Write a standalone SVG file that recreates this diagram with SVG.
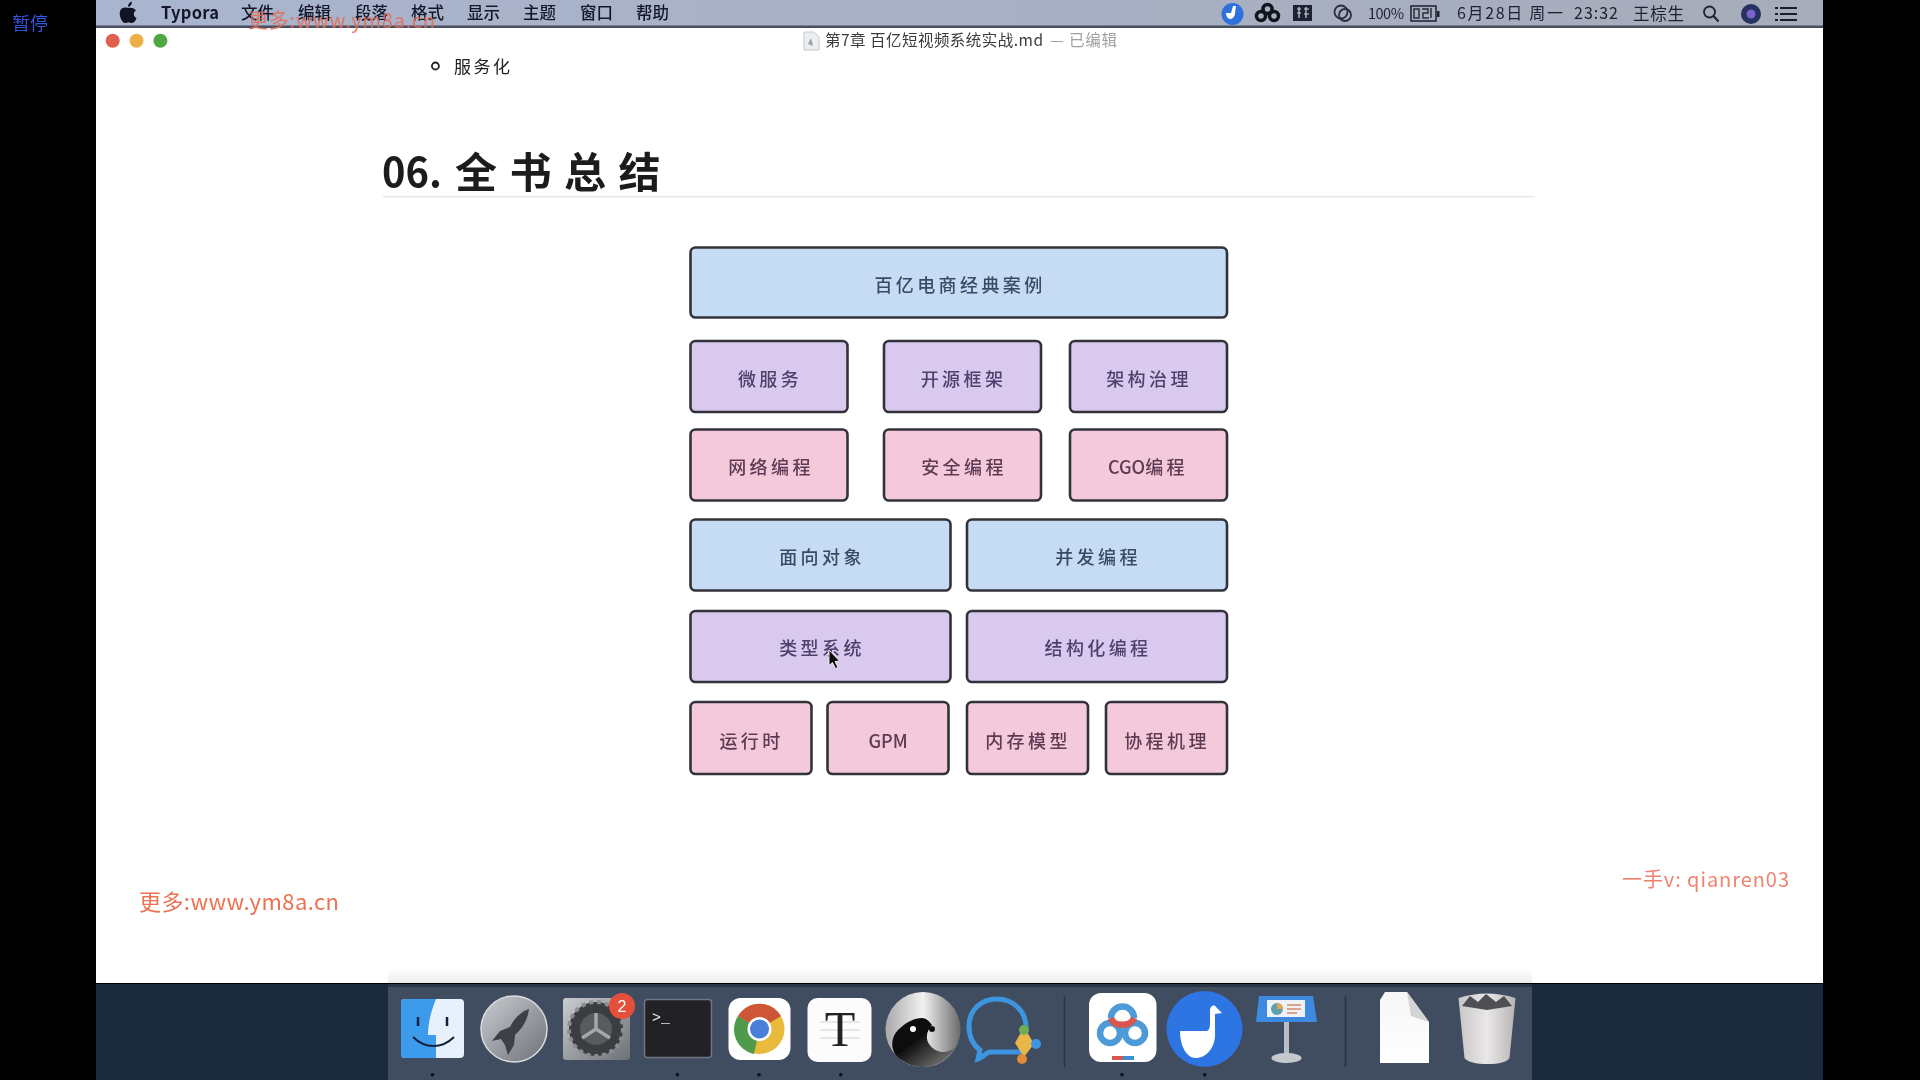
<svg xmlns="http://www.w3.org/2000/svg" width="1920" height="1080" viewBox="0 0 1920 1080">
<style>
text{font-family:"Noto Sans CJK SC","Noto Sans",sans-serif}
.box{stroke:#33333b;stroke-width:2.600;rx:5px;ry:5px}
.blue{fill:#c6dcf5}.purple{fill:#d9c9ef}.pink{fill:#f4cadb}
.lb{font-size:18px;letter-spacing:3.400px;text-anchor:middle;font-weight:500}
.tb{fill:#3b4a66}.tp{fill:#4d3f6c}.tk{fill:#5d3a52}
.menu{font-size:16.500px;fill:#14192a;font-weight:500}
.st{font-size:15px;fill:#1c2230}
.dot{fill:#0d1017}
.sep{stroke:#2a3342;stroke-width:1.500}
.serif{font-family:"Liberation Serif",serif}
.sans{font-family:"Liberation Sans",sans-serif}
.mono{font-family:"Liberation Mono",monospace}
</style>
<defs>
<linearGradient id="bar" x1="0" x2="1" y1="0" y2="0"><stop offset="0" stop-color="#a9b5cf"/><stop offset="1" stop-color="#a6acba"/></linearGradient>
<linearGradient id="glass" x1="0" x2="1" y1="0" y2="1"><stop offset="0" stop-color="#c9ccd0"/><stop offset="1" stop-color="#6d7177"/></linearGradient>
<linearGradient id="yy" x1="0" x2="1" y1="0" y2="0"><stop offset="0" stop-color="#a8a8a8"/><stop offset=".5" stop-color="#f2f2f2"/><stop offset="1" stop-color="#6b6b6b"/></linearGradient>
<linearGradient id="yb" x1="0" x2="1" y1="0" y2="1"><stop offset=".4" stop-color="#0c0c0c"/><stop offset="1" stop-color="#8a8a8a"/></linearGradient>
<linearGradient id="trash" x1="0" x2="1" y1="0" y2="0"><stop offset="0" stop-color="#c9c6c6"/><stop offset=".5" stop-color="#e9e7e7"/><stop offset="1" stop-color="#b7b4b4"/></linearGradient>
<linearGradient id="page" x1="0" x2="0" y1="0" y2="1"><stop offset="0" stop-color="#f6f6f6"/><stop offset="1" stop-color="#ffffff"/></linearGradient>
<linearGradient id="fade" x1="0" x2="0" y1="0" y2="1"><stop offset="0" stop-color="#f0f0f0" stop-opacity="0"/><stop offset="1" stop-color="#ececec"/></linearGradient>
<filter id="soft" x="-5%" y="-5%" width="110%" height="110%"><feGaussianBlur stdDeviation="0.5"/></filter>
</defs>
<rect width="1920" height="1080" fill="#000"/>
<g id="screen" filter="url(#soft)">
<rect x="96" y="0" width="1727" height="28" fill="url(#bar)"/>
<rect x="96" y="25.500" width="1727" height="2.500" fill="#4a5060"/>
<rect x="96" y="28" width="1727" height="955" fill="#fff"/>
<rect x="96" y="984" width="1727" height="96" fill="#1a2a3c"/>
<rect x="388" y="984" width="1144" height="96" fill="#414d60"/>
<rect x="388" y="984" width="1144" height="3" fill="#2b3544"/>
<rect x="388" y="968" width="1144" height="15" fill="url(#fade)"/>
<g id="menubar">
<path d="M135 9c-7-2-9 3-8 8 1 4 3 7 5 7 1.500 0 2-.8 3.500-.8s2 .8 3.500.8c2 0 4-3 4.500-5-3.500-1.500-3.500-6-.5-7.500-2-2.500-5-3-8-2.500zM135 8c0-3 1.500-5 4-5.500 0 3-1.500 5-4 5.500z" fill="#0c1322" transform="translate(-7 -1)"/>
<text class="menu" x="161" y="19" style="font-weight:700" textLength="58">Typora</text>
<text class="menu" x="241" y="19">文件</text>
<text class="menu" x="298" y="19">编辑</text>
<text class="menu" x="355" y="19">段落</text>
<text class="menu" x="411" y="19">格式</text>
<text class="menu" x="467" y="19">显示</text>
<text class="menu" x="523" y="19">主题</text>
<text class="menu" x="580" y="19">窗口</text>
<text class="menu" x="636" y="19">帮助</text>
<circle cx="1232.500" cy="14" r="11" fill="#2f6fdc"/>
<path d="M1226 13h5l2-7h3l-1 7c0 4-3 6-5 6s-4-3-4-6z" fill="#fff"/>
<g fill="none" stroke="#10131c" stroke-width="3.500"><circle cx="1267.500" cy="9" r="4.500"/><circle cx="1261" cy="16" r="4.500"/><circle cx="1274" cy="16" r="4.500"/></g>
<rect x="1293" y="5" width="19" height="16" fill="#1d2130"/>
<path d="M1297 9h4M1297 13h4M1299 7v11M1304 9h5M1304 14h5M1306 7v11" stroke="#d0d4dd" stroke-width="1.200" fill="none"/>
<g fill="none" stroke="#2a2f3c" stroke-width="1.800"><circle cx="1341" cy="12" r="6.500"/><circle cx="1345" cy="15" r="6"/></g>
<text class="st" x="1368" y="18.500" style="font-size:14.500px" textLength="36">100%</text>
<rect x="1411" y="6" width="25" height="15" fill="none" stroke="#1c2230" stroke-width="1.500"/>
<path d="M1414 9h5v9h-5zM1422 9h6v4h-5v5h6M1431 8v10" fill="none" stroke="#2a2f3c" stroke-width="1.500"/>
<rect x="1437" y="11" width="2.500" height="6" fill="#1c2230"/>
<text class="st" x="1457" y="19" style="font-size:16px" textLength="106">6月28日 周一</text>
<text class="st" x="1574" y="19" style="font-size:16px" textLength="44">23:32</text>
<text class="st" x="1633" y="19.500" style="font-size:16.500px" textLength="51">王棕生</text>
<circle cx="1709.500" cy="12" r="5.500" fill="none" stroke="#1c2230" stroke-width="1.800"/>
<path d="M1713.500 16l5 5.500" stroke="#1c2230" stroke-width="2"/>
<circle cx="1751" cy="14" r="10" fill="#27305e"/>
<circle cx="1751" cy="14" r="4.500" fill="#7a62d0"/>
<path d="M1775 8h22M1775 14h22M1775 20h22" stroke="#1a1e2a" stroke-width="2" stroke-dasharray="3 2 17 0"/>
</g>
<text x="248" y="28" font-size="20" fill="#e86a52" opacity=".85" textLength="187">更多:www.ym8a.cn</text>
<text x="12" y="30" font-size="18" fill="#3354dc">暂停</text>
<g id="titlebar">
<circle cx="112.700" cy="40.700" r="7" fill="#e0604e"/>
<circle cx="136.500" cy="40.700" r="7" fill="#eeb044"/>
<circle cx="160.400" cy="40.700" r="7" fill="#4fa843"/>
<path d="M804 32h10l5 5v13h-15z" fill="#eceff2" stroke="#c4c8cc"/>
<path d="M808 44l3-6 2 8z" fill="#9aa0a6"/>
<text x="825" y="46" font-size="15.500" fill="#3a3a3a" textLength="218">第7章 百亿短视频系统实战.md</text>
<text x="1050" y="46" font-size="15.500" fill="#a0a0a0" textLength="67">— 已编辑</text>
</g>
<circle cx="435.400" cy="66" r="3.500" fill="none" stroke="#222" stroke-width="1.800"/>
<text x="454" y="73" font-size="17" fill="#222" textLength="56">服务化</text>
<text x="382" y="187" font-size="42" font-weight="700" fill="#1c1c1c" textLength="60" lengthAdjust="spacingAndGlyphs">06.</text>
<text x="455" y="188" font-size="42" font-weight="700" fill="#1c1c1c" letter-spacing="12.500">全书总结</text>
<rect x="383" y="196" width="1152" height="1.500" fill="#e8e8e8"/>
<g id="diagram">
<g id="n-ecommerce"><rect class="box blue" x="690.500" y="247.500" width="536.500" height="70"/><text class="lb tb" x="960" y="291.500">百亿电商经典案例</text></g>
<g id="n-micro"><rect class="box purple" x="690.500" y="341" width="157" height="71"/><text class="lb tp" x="770" y="385.500">微服务</text></g>
<g id="n-oss"><rect class="box purple" x="884" y="341" width="157" height="71"/><text class="lb tp" x="963.500" y="385.500">开源框架</text></g>
<g id="n-gov"><rect class="box purple" x="1070" y="341" width="157" height="71"/><text class="lb tp" x="1149" y="385.500">架构治理</text></g>
<g id="n-net"><rect class="box pink" x="690.500" y="429.500" width="157" height="71"/><text class="lb tk" x="771" y="473.500">网络编程</text></g>
<g id="n-sec"><rect class="box pink" x="884" y="429.500" width="157" height="71"/><text class="lb tk" x="964" y="473.500">安全编程</text></g>
<g id="n-cgo"><rect class="box pink" x="1070" y="429.500" width="157" height="71"/><text class="lb tk" x="1148" y="473.500"><tspan letter-spacing="0">CGO</tspan>编程</text></g>
<g id="n-oop"><rect class="box blue" x="690.500" y="519.500" width="260" height="71"/><text class="lb tb" x="822" y="563.500">面向对象</text></g>
<g id="n-conc"><rect class="box blue" x="967" y="519.500" width="260" height="71"/><text class="lb tb" x="1098" y="563.500">并发编程</text></g>
<g id="n-type"><rect class="box purple" x="690.500" y="611" width="260" height="71"/><text class="lb tp" x="822" y="655">类型系统</text></g>
<g id="n-struct"><rect class="box purple" x="967" y="611" width="260" height="71"/><text class="lb tp" x="1098" y="655">结构化编程</text></g>
<g id="n-runtime"><rect class="box pink" x="690.500" y="702" width="121" height="72"/><text class="lb tk" x="751.500" y="747.500">运行时</text></g>
<g id="n-gpm"><rect class="box pink" x="827.500" y="702" width="121" height="72"/><text class="lb tk" x="888" y="747.500" style="letter-spacing:0">GPM</text></g>
<g id="n-mem"><rect class="box pink" x="967" y="702" width="121" height="72"/><text class="lb tk" x="1028" y="747.500">内存模型</text></g>
<g id="n-cor"><rect class="box pink" x="1106" y="702" width="121" height="72"/><text class="lb tk" x="1167" y="747.500">协程机理</text></g>
</g>
<g id="connectors"></g>
<path d="M829 650l10.500 11-4.500 .5 3 6-2.500 1-3-6-3.500 3z" fill="#111" stroke="#fff" stroke-width=".8"/>
<text x="139" y="910" font-size="22" fill="#ee7152" textLength="200">更多:www.ym8a.cn</text>
<text x="1622" y="887" font-size="20" fill="#f08470" textLength="167">一手v: qianren03</text>
<g id="dock">
<rect x="401" y="999" width="63" height="59" rx="4" fill="#e8f1fb"/>
<path d="M405 999h31c-5 12-8 24-8 36h8v23h-31a4 4 0 0 1-4-4v-51a4 4 0 0 1 4-4z" fill="#3d9bec"/>
<path d="M418 1017v9M447 1017v9" stroke="#13243d" stroke-width="2.500"/>
<path d="M413 1037c12 12 29 12 41 0" fill="none" stroke="#13243d" stroke-width="2"/>
<circle cx="514" cy="1029" r="33" fill="url(#glass)" stroke="#d8dadd" stroke-width="1.500"/>
<path d="M529 1009c-9 3-15 10-19 18l-10 4-8 10 9-2 4 6 3 10 6-10 1-10c8-7 13-16 14-26z" fill="#3c4046"/>
<rect x="563" y="998" width="67" height="62" rx="3" fill="url(#glass)"/>
<circle cx="596" cy="1029" r="27" fill="#3b3d41"/>
<circle cx="596" cy="1029" r="27" fill="none" stroke="#8b8d90" stroke-width="4" stroke-dasharray="4 4"/>
<circle cx="596" cy="1029" r="16" fill="#595b5f"/>
<path d="M596 1029v-16M596 1029l-14 9M596 1029l14 9" stroke="#a4a6a9" stroke-width="3.500"/>
<circle cx="622" cy="1006" r="13" fill="#e3503a"/>
<text class="sans" x="622" y="1012" font-size="16" fill="#fff" text-anchor="middle">2</text>
<rect x="644.500" y="999.500" width="67" height="58" rx="3" fill="#232427" stroke="#6e7683" stroke-width="1.500"/>
<text class="mono" x="652" y="1022" font-size="15" fill="#f3f3f3">&gt;_</text>
<rect x="728.500" y="998" width="62" height="62" rx="12" fill="#fff"/>
<circle cx="759.500" cy="1029" r="25" fill="#e9bb3e"/>
<path d="M759.500 1029L738 1016a25 25 0 0 1 43 0z" fill="#ce5534"/>
<path d="M759.500 1029l-21.500-13a25 25 0 0 0 16 38z" fill="#4f9a4e"/>
<circle cx="759.500" cy="1029" r="12" fill="#fff"/>
<circle cx="759.500" cy="1029" r="9.500" fill="#4a7fd8"/>
<rect x="807.500" y="998" width="64" height="64" rx="10" fill="#fcfcfc"/>
<path d="M820 1022h40M820 1030h40M820 1038h40" stroke="#e8e8e8" stroke-width="2"/>
<text class="serif" x="840" y="1046" font-size="50" fill="#222" text-anchor="middle">T</text>
<circle cx="923" cy="1029.500" r="37.500" fill="url(#yy)"/>
<path d="M922 1018c-9 0-18 6-24 12-8 8-8 22 2 29 8 6 16 8 23 8 14 0 26-8 32-20-8 8-20 6-26-3-4-6-2-14 3-19-3-4-6-7-10-7z" fill="url(#yb)"/>
<circle cx="913" cy="1029" r="3" fill="#fff"/>
<circle cx="932" cy="1029" r="3" fill="#111"/>
<path d="M1024 1052h-34c-3 0-8 6-12 7l2-9c-8-6-11-15-11-24 0-16 12-27 28-27s29 12 29 28c0 3 0 6-1 8" fill="none" stroke="#3d95e0" stroke-width="5"/>
<path d="M1024 1027l-9 16 9 14 10-13z" fill="#e8b64a"/>
<circle cx="1024" cy="1030" r="5" fill="#6fae54"/>
<circle cx="1036" cy="1044" r="5" fill="#3d95e0"/>
<circle cx="1022" cy="1059" r="5" fill="#e28a3a"/>
<path class="sep" d="M1064.500 996v71M1345.500 996v71"/>
<rect x="1089" y="993" width="67.500" height="69" rx="12" fill="#fff"/>
<g fill="none" stroke-width="6.500"><circle cx="1110" cy="1033" r="10" stroke="#4d9ad8"/><circle cx="1135" cy="1033" r="10" stroke="#4d9ad8"/><path d="M1111 1018a11.500 11.500 0 0 1 23 0" stroke="#4d9ad8"/><path d="M1111 1018c2 9 20 9 23 0" stroke="#d8564e"/></g>
<rect x="1112" y="1056" width="11" height="4" fill="#d8564e"/><rect x="1123" y="1056" width="11" height="4" fill="#3d8fd8"/>
<circle cx="1204.500" cy="1029" r="38" fill="#2f74e4"/>
<path d="M1180 1031h26c3 0 4-3 4-8v-13c0-4 4-6 6-3l6 6-7 1v21c0 14-10 23-19 23-10 0-16-13-16-27z" fill="#fff"/>
<path d="M1259 996h54l4 26h-61z" fill="#3c8ae0"/>
<rect x="1267" y="1000" width="38" height="17" fill="#eef2f6"/>
<circle cx="1277" cy="1009" r="6" fill="#5fa0b0"/>
<path d="M1277 1009v-6a6 6 0 0 1 6 6z" fill="#e0a848"/>
<path d="M1287 1005h14M1287 1009h14M1287 1013h10" stroke="#d88a6a" stroke-width="1.500"/>
<rect x="1284" y="1022" width="5" height="34" fill="#b9bec5"/>
<ellipse cx="1286.500" cy="1058" rx="15" ry="5" fill="#c5c9cd"/>
<path d="M1380 1000l5-8h22l22 30v41h-49z" fill="url(#page)"/>
<path d="M1407 992l4 24 18 6z" fill="#d4d4d6"/>
<path d="M1458.500 998q28-9 57 0l-6 60q-4 6-22 6t-23-6z" fill="url(#trash)"/>
<path d="M1462 1006l8-10 8 6 8-8 10 8 8-6 8 10-25 4z" fill="#4d4f55"/>
<circle class="dot" cx="432.500" cy="1074.700" r="1.800"/><circle class="dot" cx="677.400" cy="1074.700" r="1.800"/><circle class="dot" cx="759" cy="1074.700" r="1.800"/><circle class="dot" cx="840.700" cy="1074.700" r="1.800"/><circle class="dot" cx="1122" cy="1074.700" r="1.800"/><circle class="dot" cx="1204.700" cy="1074.700" r="1.800"/>
</g>
</g>
</svg>
